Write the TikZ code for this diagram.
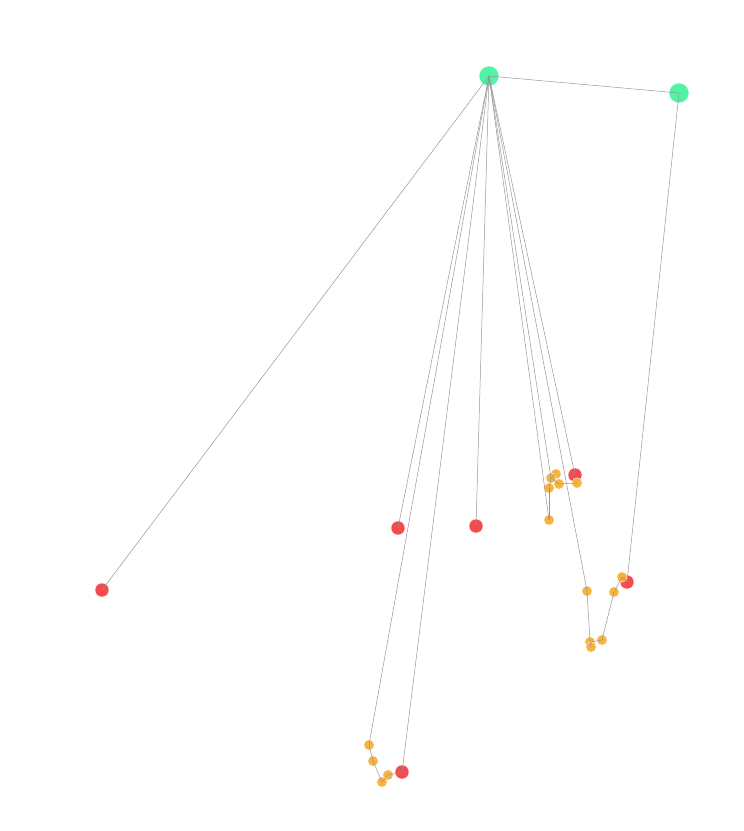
\documentclass[tikz,border=0pt]{standalone}
\begin{document}
\begin{tikzpicture}[x=1pt,y=-1pt,
  hubn/.style={circle,fill={rgb,255:red,72;green,242;blue,160},fill opacity=0.95,draw=white,line width=0.4pt,minimum size=20pt,inner sep=0pt},
  redn/.style={circle,fill={rgb,255:red,244;green,64;blue,68},fill opacity=0.95,draw=white,line width=0.4pt,minimum size=14pt,inner sep=0pt},
  orn/.style={circle,fill={rgb,255:red,247;green,176;blue,56},fill opacity=0.95,draw=white,line width=0.4pt,minimum size=10.5pt,inner sep=0pt},
  edge/.style={draw={rgb,255:red,150;green,150;blue,150},line width=0.5pt}]
\useasboundingbox (0,0) rectangle (744,831);
% nodes
\node[hubn] (A) at (489,76) {};
\node[hubn] (B) at (679,93) {};
\node[redn] (r1) at (102,590) {};
\node[redn] (r2) at (398,528) {};
\node[redn] (r3) at (476,526) {};
\node[redn] (r4) at (575,475) {};
\node[redn] (r5) at (627,582) {};
\node[redn] (r6) at (402,772) {};
% cluster 1
\node[orn] (c1) at (556,474) {};
\node[orn] (c2) at (551,478) {};
\node[orn] (c3) at (559,484) {};
\node[orn] (c4) at (549,488) {};
\node[orn] (c5) at (577,483) {};
\node[orn] (c6) at (549,520) {};
% cluster 3
\node[orn] (d1) at (622,577) {};
\node[orn] (d2) at (614,592) {};
\node[orn] (d3) at (587,591) {};
\node[orn] (d4) at (602,640) {};
\node[orn] (d5) at (590,642) {};
\node[orn] (d6) at (591,647) {};
% cluster 4
\node[orn] (e1) at (369,745) {};
\node[orn] (e2) at (373,761) {};
\node[orn] (e3) at (388,775) {};
\node[orn] (e4) at (382,782) {};
% edges
\foreach \t in {B,r1,r2,r3,r4,r6,c2,c6,d3,e1}
  \draw[edge] (A.center) -- (\t.center);
\draw[edge] (B.center) -- (r5.center);
\draw[edge] (c2.center) -- (c1.center);
\draw[edge] (c2.center) -- (c3.center);
\draw[edge] (c2.center) -- (c4.center);
\draw[edge] (c3.center) -- (c5.center);
\draw[edge] (c4.center) -- (c6.center);
\draw[edge] (r5.center) -- (d1.center);
\draw[edge] (d1.center) -- (d2.center);
\draw[edge] (d2.center) -- (d4.center);
\draw[edge] (d4.center) -- (d5.center);
\draw[edge] (d3.center) -- (d5.center);
\draw[edge] (d5.center) -- (d6.center);
\draw[edge] (e1.center) -- (e2.center);
\draw[edge] (e2.center) -- (e4.center);
\draw[edge] (e4.center) -- (e3.center);
\draw[edge] (e3.center) -- (r6.center);
\end{tikzpicture}
\end{document}
